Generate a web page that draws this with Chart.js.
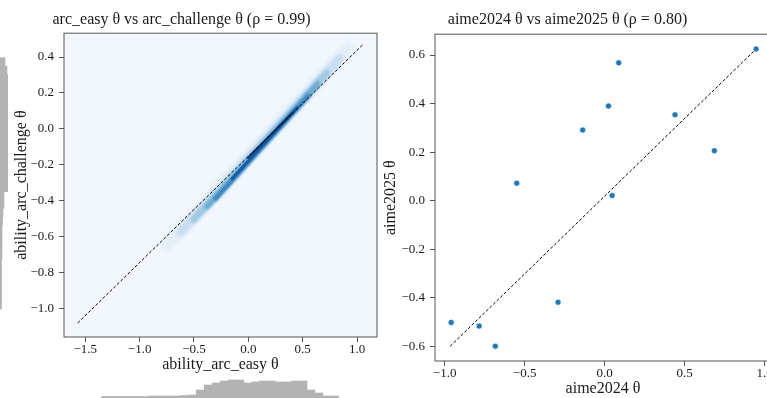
<!DOCTYPE html>
<html>
<head>
<meta charset="utf-8">
<script src="https://cdn.jsdelivr.net/npm/chart.js@4.4.0/dist/chart.umd.min.js"></script>
<style>
  html, body { margin: 0; padding: 0; background: #fff; }
  body { position: relative; width: 767px; height: 398px; overflow: hidden; }
  canvas { position: absolute; }
</style>
</head>
<body>
<canvas id="arcChart" width="392" height="398" style="left:-14px;top:0;width:392px;height:398px"></canvas>
<canvas id="aimeChart" width="426" height="398" style="left:364px;top:0;width:426px;height:398px"></canvas>
<canvas id="easyHist" width="313" height="20" style="left:64px;top:378px;width:313px;height:20px"></canvas>
<canvas id="challengeHist" width="8" height="305" style="left:0;top:32px;width:8px;height:305px"></canvas>
<script>
// ---- left panel: arc_easy vs arc_challenge ----
const arcXRange = [-1.696, 1.184];
const arcYRange = [-1.161, 0.533];
const arcXTicks = [-1.5, -1.0, -0.5, 0.0, 0.5, 1.0];
const arcYTicks = [-1.0, -0.8, -0.6, -0.4, -0.2, 0.0, 0.2, 0.4];
const arcRefX = [-1.57, 1.05];
const arcRefY = [-1.083, 0.467];

// density band, read as nested levels (faint -> dark)
const densityStartX = [-0.75, -0.62, -0.50, -0.38, -0.30, -0.15, 0.00];
const densityStartY = [-0.648, -0.575, -0.505, -0.434, -0.389, -0.279, -0.160];
const densityEndX = [0.92, 0.84, 0.72, 0.64, 0.55, 0.45, 0.40];
const densityEndY = [0.450, 0.390, 0.310, 0.250, 0.183, 0.118, 0.085];

// marginal histograms (visible heights)
const easyBins = [-1.526, -1.439, -1.352, -1.265, -1.178, -1.090, -1.003, -0.916, -0.828, -0.741,
  -0.654, -0.566, -0.479, -0.392, -0.304, -0.217, -0.130, -0.042, 0.045, 0.132,
  0.219, 0.307, 0.394, 0.481, 0.568, 0.656, 0.743, 0.830, 0.917, 1.004];
const easyCounts = [1.5, 1.5, 1.5, 1.5, 1.5, 1.5, 2, 2, 2, 2, 2.5, 3, 8, 13, 15, 17, 18, 18, 15, 16,
  17, 17, 16, 16, 17, 17, 8, 5, 2, 2];
const challengeBins = [-1.057, -1.005, -0.954, -0.902, -0.850, -0.798, -0.747, -0.695, -0.643, -0.592,
  -0.540, -0.488, -0.436, -0.385, -0.333, -0.281, -0.230, -0.178, -0.126, -0.074,
  -0.023, 0.029, 0.081, 0.133, 0.184, 0.236, 0.288, 0.339, 0.391, 0.443];
const challengeCounts = [1.5, 1.5, 1.5, 1.5, 1.5, 1.5, 2, 2, 2, 2, 2.5, 3, 4, 4, 9, 10, 11, 12, 12, 11,
  11, 12, 12, 11, 11, 12, 12, 9, 7, 5];

// ---- right panel: aime2024 vs aime2025 ----
const aimeXRange = [-1.06, 1.04];
const aimeYRange = [-0.661, 0.686];
const aimeXTicks = [-1.0, -0.5, 0.0, 0.5, 1.0];
const aimeYTicks = [-0.6, -0.4, -0.2, 0.0, 0.2, 0.4, 0.6];
const aime2024 = [0.947, 0.088, 0.024, -0.137, 0.440, 0.686, -0.549, 0.047, -0.291, -0.959, -0.784, -0.683];
const aime2025 = [0.625, 0.568, 0.390, 0.291, 0.354, 0.206, 0.072, 0.021, -0.419, -0.502, -0.517, -0.600];
const aimeRefX = [-0.965, 0.947];
const aimeRefY = [-0.600, 0.625];

const FONT = "'Liberation Serif', 'DejaVu Serif', serif";
const TEXT = '#1a1a1a';
const SPINE = '#555';

const levelColors = ['#e2edf8', '#c8ddf0', '#a0cae3', '#6aacd5', '#3987c1', '#145fa7', '#08366e'];
const levelWidths = [12, 9, 7, 5.5, 4.5, 3.2, 2];
const levelBlur = [2, 1.6, 1.3, 1, 0.8, 0.6, 0.4];

const fmt = v => (v < -1e-9 ? '\u2212' : '') + Math.abs(v).toFixed(1);
const pts = (xs, ys) => xs.map((x, i) => ({ x: x, y: ys[i] }));

const framePlugin = {
  id: 'frame',
  beforeDraw(chart, args, opts) {
    if (!opts.fill) return;
    const a = chart.chartArea, ctx = chart.ctx;
    ctx.save();
    ctx.fillStyle = opts.fill;
    ctx.fillRect(a.left, a.top, a.right - a.left, a.bottom - a.top);
    ctx.restore();
  },
  afterDraw(chart, args, opts) {
    if (!opts.stroke) return;
    const a = chart.chartArea, ctx = chart.ctx;
    ctx.save();
    ctx.strokeStyle = opts.stroke;
    ctx.lineWidth = 1;
    ctx.strokeRect(a.left, a.top, a.right - a.left, a.bottom - a.top);
    ctx.restore();
  }
};

const blurPlugin = {
  id: 'blurLevels',
  beforeDatasetDraw(chart, args) {
    const b = chart.data.datasets[args.index].blur;
    if (b) chart.ctx.filter = 'blur(' + b + 'px)';
  },
  afterDatasetDraw(chart) {
    chart.ctx.filter = 'none';
  }
};

function axis(range, ticks, title, opts) {
  return {
    type: 'linear',
    min: range[0],
    max: range[1],
    afterBuildTicks: s => { s.ticks = ticks.map(v => ({ value: v })); },
    afterFit: s => { if (opts.width) s.width = opts.width; if (opts.height) s.height = opts.height; },
    border: { display: false },
    grid: { drawOnChartArea: false, drawTicks: true, tickLength: 5, color: SPINE, tickWidth: 1 },
    ticks: {
      callback: fmt, color: TEXT, padding: opts.tickPad, maxRotation: 0, autoSkip: false,
      font: { family: FONT, size: 13 }
    },
    title: {
      display: true, text: title, color: TEXT,
      font: { family: FONT, size: 16 },
      padding: opts.titlePad
    }
  };
}

const common = {
  responsive: false,
  animation: false,
  events: [],
  plugins: { legend: { display: false }, tooltip: { enabled: false } }
};

// left panel datasets: reference line on top, density levels below
const arcSets = [{
  data: pts(arcRefX, arcRefY), showLine: true, pointRadius: 0,
  borderColor: '#000', borderWidth: 1, borderDash: [3, 2]
}];
for (let i = densityStartX.length - 1; i >= 0; i--) {
  arcSets.push({
    data: pts([densityStartX[i], densityEndX[i]], [densityStartY[i], densityEndY[i]]),
    showLine: true, pointRadius: 0, borderCapStyle: 'round',
    borderColor: levelColors[i], borderWidth: levelWidths[i], blur: levelBlur[i]
  });
}

new Chart(document.getElementById('arcChart'), {
  type: 'scatter',
  data: { datasets: arcSets },
  options: Object.assign({}, common, {
    layout: { padding: { top: 0, right: 1, bottom: 0, left: 0 } },
    scales: {
      x: axis(arcXRange, arcXTicks, 'ability_arc_easy θ', { height: 61, tickPad: 0, titlePad: { bottom: 24 } }),
      y: axis(arcYRange, arcYTicks, 'ability_arc_challenge θ', { width: 78, tickPad: 5, titlePad: { top: 26 } })
    },
    plugins: Object.assign({}, common.plugins, {
      title: {
        display: true, text: 'arc_easy θ vs arc_challenge θ (ρ = 0.99)', color: TEXT,
        font: { family: FONT, size: 16, weight: 'normal' }, padding: { top: 10, bottom: 4 }
      },
      frame: { fill: '#f2f7fd', stroke: SPINE }
    })
  }),
  plugins: [framePlugin, blurPlugin]
});

new Chart(document.getElementById('aimeChart'), {
  type: 'scatter',
  data: {
    datasets: [{
      data: pts(aime2024, aime2025), pointRadius: 3, borderWidth: 0.6,
      backgroundColor: '#1f77b4', borderColor: '#ffffff'
    }, {
      data: pts(aimeRefX, aimeRefY), showLine: true, pointRadius: 0,
      borderColor: '#000', borderWidth: 1, borderDash: [3, 2]
    }]
  },
  options: Object.assign({}, common, {
    layout: { padding: { top: 1, right: 19, bottom: 0, left: 0 } },
    scales: {
      x: axis(aimeXRange, aimeXTicks, 'aime2024 θ', { height: 37, tickPad: 0, titlePad: { bottom: 0 } }),
      y: axis(aimeYRange, aimeYTicks, 'aime2025 θ', { width: 71, tickPad: 5, titlePad: { top: 17 } })
    },
    plugins: Object.assign({}, common.plugins, {
      title: {
        display: true, text: 'aime2024 θ vs aime2025 θ (ρ = 0.80)', color: TEXT,
        font: { family: FONT, size: 16, weight: 'normal' }, padding: { top: 9, bottom: 5 }
      },
      frame: { stroke: SPINE }
    })
  }),
  plugins: [framePlugin]
});

// marginal histogram under the left panel
new Chart(document.getElementById('easyHist'), {
  type: 'bar',
  data: {
    datasets: [{
      data: pts(easyBins, easyCounts), backgroundColor: '#b3b3b3',
      barPercentage: 1, categoryPercentage: 1, borderWidth: 0
    }]
  },
  options: Object.assign({}, common, {
    layout: { padding: 0 },
    scales: {
      x: { type: 'linear', min: arcXRange[0], max: arcXRange[1], display: false },
      y: { min: 0, max: 20, display: false }
    }
  })
});

// marginal histogram at the left edge
new Chart(document.getElementById('challengeHist'), {
  type: 'bar',
  data: {
    datasets: [{
      data: pts(challengeCounts, challengeBins), backgroundColor: '#b3b3b3',
      barPercentage: 1, categoryPercentage: 1, borderWidth: 0
    }]
  },
  options: Object.assign({}, common, {
    indexAxis: 'y',
    layout: { padding: 0 },
    scales: {
      x: { min: 0, max: 8, display: false },
      y: { type: 'linear', min: arcYRange[0], max: arcYRange[1], display: false }
    }
  })
});
</script>
</body>
</html>
